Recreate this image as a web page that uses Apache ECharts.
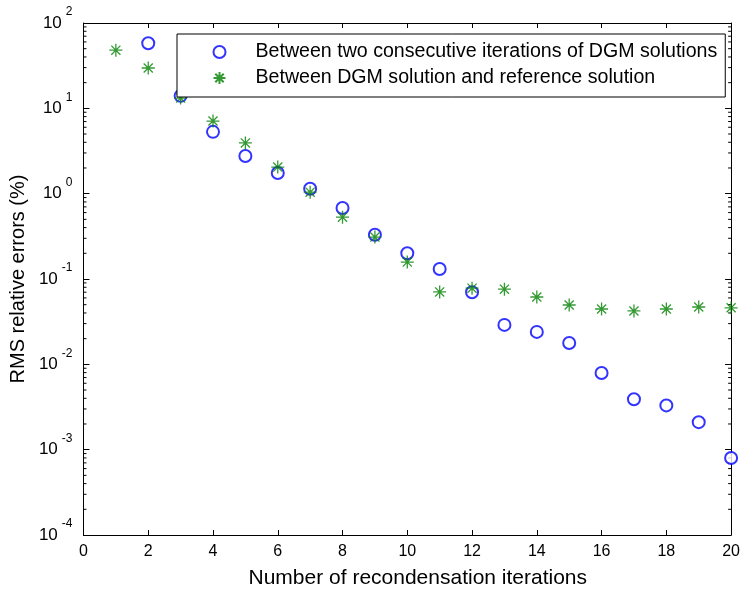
<!DOCTYPE html>
<html>
<head>
<meta charset="utf-8">
<script src="https://cdn.jsdelivr.net/npm/echarts@6/dist/echarts.min.js"></script>
<style>
  html, body { margin: 0; padding: 0; background: #fff; }
  #chart { width: 743px; height: 596px; }
</style>
</head>
<body>
<div id="chart"></div>
<script>
// 資料
const iterations = [1, 2, 3, 4, 5, 6, 7, 8, 9, 10, 11, 12, 13, 14, 15, 16, 17, 18, 19, 20];
// 兩次迭代之間 (x=1 無值)
const consecutiveErr = [null, 58, 14.0, 5.3, 2.76, 1.75, 1.14, 0.68, 0.33, 0.20,
  0.131, 0.070, 0.029, 0.024, 0.0178, 0.0079, 0.0039, 0.0033, 0.0021, 0.0008];
// 與參考解之間
const referenceErr = [48, 29.7, 13.2, 7.1, 3.93, 2.05, 1.04, 0.53, 0.31, 0.158,
  0.0705, 0.078, 0.076, 0.0615, 0.0496, 0.0445, 0.0422, 0.0445, 0.047, 0.046];
const legendNames = ['Between two consecutive iterations of DGM solutions', 'Between DGM solution and reference solution'];

const FONT = 'Liberation Sans, Arial, sans-serif';

// 對數軸的次刻度 (2..9 × 10^k)
const minorTicks = [];
for (let k = -4; k < 2; k++) {
  for (let m = 2; m <= 9; m++) minorTicks.push(m * Math.pow(10, k));
}

const toPairs = arr => iterations.map((x, i) => [x, arr[i]]).filter(p => p[1] != null);

const myChart = echarts.init(document.getElementById('chart'));

const frameAxis = {
  axisLine: { onZero: false, lineStyle: { color: '#000', width: 1 } },
  axisTick: { inside: true, length: 5, lineStyle: { color: '#000' } },
  splitLine: { show: false }
};

const options = {
  animation: false,
  backgroundColor: '#fff',
  textStyle: { fontFamily: FONT, color: '#000' },
  grid: { left: 83, right: 11, top: 23, bottom: 61 },
  legend: {
    data: legendNames,
    orient: 'vertical',
    left: 177,
    top: 34,
    padding: [8, 8, 9, 34],
    itemGap: 6,
    itemWidth: 62,
    itemHeight: 12,
    backgroundColor: '#fff',
    borderColor: '#000',
    borderWidth: 1,
    textStyle: { fontFamily: FONT, fontSize: 19.6, color: '#000' }
  },
  xAxis: [
    {
      ...frameAxis,
      type: 'value', min: 0, max: 20, interval: 2,
      name: 'Number of recondensation iterations',
      nameLocation: 'middle', nameGap: 33,
      nameTextStyle: { fontSize: 21, color: '#000', fontFamily: FONT, padding: [0, 0, 0, 21] },
      axisLabel: { fontSize: 16, color: '#000', margin: 9, fontFamily: FONT }
    },
    {
      ...frameAxis,
      type: 'value', min: 0, max: 20, interval: 2, position: 'top',
      axisLabel: { show: false }
    }
  ],
  yAxis: [
    {
      ...frameAxis,
      type: 'log', logBase: 10, min: 1e-4, max: 100,
      name: 'RMS relative errors (%)',
      nameLocation: 'middle', nameGap: 49,
      nameTextStyle: { fontSize: 20, color: '#000', fontFamily: FONT },
      axisTick: { inside: true, length: 6, lineStyle: { color: '#000' } },
      axisLabel: {
        margin: 11,
        formatter: v => '{b|10}{s|' + Math.round(Math.log10(v)) + '}',
        rich: {
          b: { fontSize: 17, color: '#000', fontFamily: FONT },
          s: { fontSize: 12, color: '#000', fontFamily: FONT, padding: [0, 0, 22, 4] }
        }
      }
    },
    {
      ...frameAxis,
      type: 'log', logBase: 10, min: 1e-4, max: 100, position: 'right',
      axisTick: { inside: true, length: 6, lineStyle: { color: '#000' } },
      axisLabel: { show: false }
    }
  ],
  series: [
    {
      // 次刻度 (左右兩側)
      type: 'custom',
      silent: true,
      z: 1,
      data: minorTicks.map(v => [0, v]),
      renderItem: function (params, api) {
        const y = api.coord([0, api.value(1)])[1];
        const cs = params.coordSys;
        return {
          type: 'group',
          children: [
            { type: 'line', shape: { x1: cs.x, y1: y, x2: cs.x + 3, y2: y }, style: { stroke: '#000', lineWidth: 1 } },
            { type: 'line', shape: { x1: cs.x + cs.width - 3, y1: y, x2: cs.x + cs.width, y2: y }, style: { stroke: '#000', lineWidth: 1 } }
          ]
        };
      }
    },
    {
      name: legendNames[0],
      type: 'scatter',
      symbol: 'emptyCircle',
      symbolSize: 12,
      clip: false,
      itemStyle: { color: '#0000ff', borderColor: '#0000ff', borderWidth: 1 },
      data: toPairs(consecutiveErr)
    },
    {
      name: legendNames[1],
      type: 'scatter',
      symbol: 'path://M5,0 L5,10 M0,5 L10,5 M1.5,1.5 L8.5,8.5 M1.5,8.5 L8.5,1.5',
      symbolSize: 13,
      clip: false,
      itemStyle: { color: 'none', borderColor: '#008000', borderWidth: 1.3 },
      data: toPairs(referenceErr)
    }
  ]
};

myChart.setOption(options);
</script>
</body>
</html>
